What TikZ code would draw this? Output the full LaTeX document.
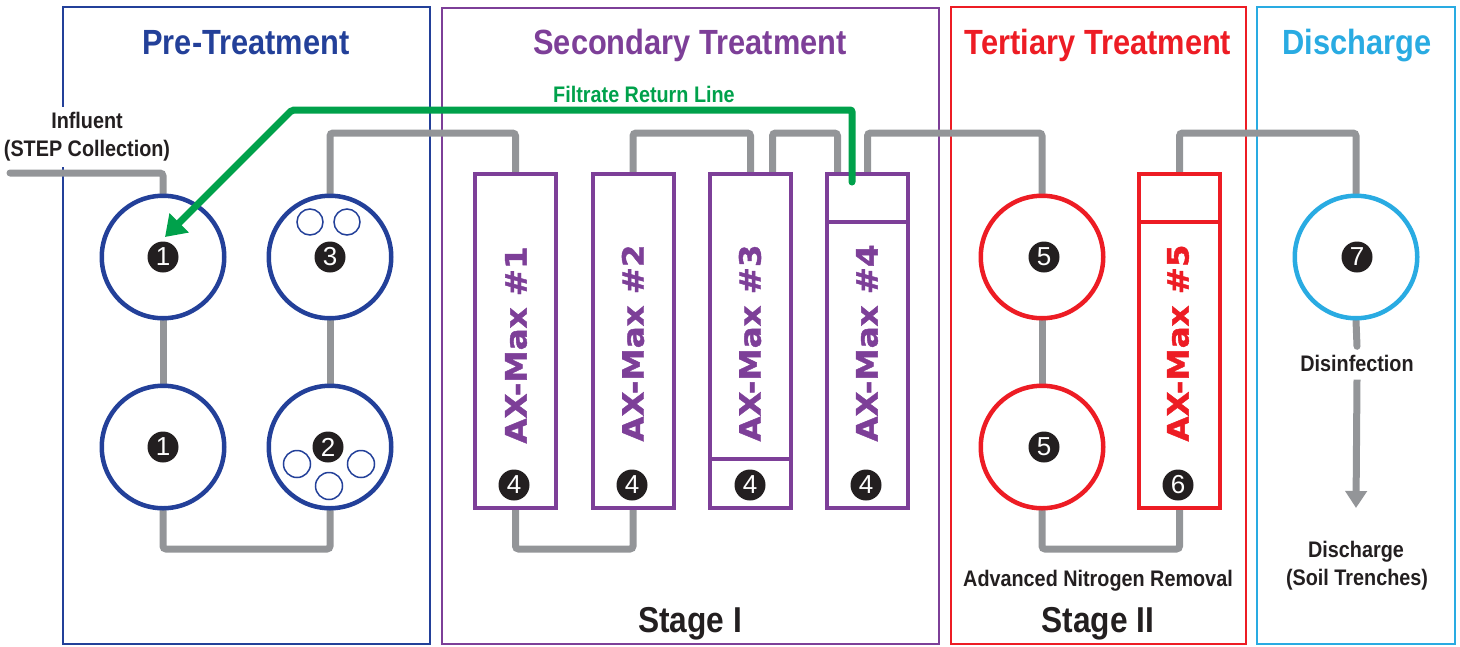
\documentclass[tikz,border=0pt]{standalone}
\usepackage{fontspec}
\setmainfont{Liberation Sans}[FakeStretch=0.88]
\newfontfamily\axfont{DejaVu Sans}[FakeStretch=1.1,FakeBold=1.4]
\newfontfamily\numfont{Liberation Sans}
\usetikzlibrary{arrows.meta,calc}
\pgfdeclarelayer{bg}
\pgfdeclarelayer{pipes}
\pgfsetlayers{bg,pipes,main}
\definecolor{ptblue}{RGB}{35,64,153}
\definecolor{stpurple}{RGB}{125,63,152}
\definecolor{ttred}{RGB}{237,28,36}
\definecolor{dccyan}{RGB}{41,171,226}
\definecolor{pipegray}{RGB}{147,149,152}
\definecolor{retgreen}{RGB}{0,161,75}
\definecolor{ink}{RGB}{35,31,32}
\tikzset{
  panel/.style={line width=2pt},
  tank/.style={circle, draw, line width=4.5pt, fill=white, minimum size=122.5pt, inner sep=0pt},
  axbox/.style={rectangle, draw=stpurple, line width=4pt, fill=white, minimum width=81pt, minimum height=334pt, inner sep=0pt},
  badge/.style={circle, fill=ink, text=white, minimum size=31pt, inner sep=0pt, font=\numfont\fontsize{26}{26}\selectfont},
  pipe/.style={draw=pipegray, line width=7pt, rounded corners=3pt, line cap=round},
  ttl/.style={font=\bfseries\fontsize{35}{40}\selectfont, anchor=base, inner sep=0pt},
  lbl/.style={font=\bfseries\fontsize{22.5}{28}\selectfont, anchor=base, inner sep=0pt, text=ink},
  stg/.style={font=\bfseries\fontsize{36}{40}\selectfont, anchor=base, inner sep=0pt, text=ink},
  axlbl/.style={font=\axfont\bfseries\fontsize{29.5}{32}\selectfont, rotate=90, inner sep=0pt},
  smallc/.style={line width=1.5pt, draw=ptblue},
  divider/.style={line width=4pt},
  retline/.style={draw=retgreen, line width=7pt, rounded corners=2pt, line cap=round},
}
\begin{document}
\begin{tikzpicture}[x=1pt,y=1pt]
\useasboundingbox (0,0) rectangle (1460,-646);
% level coordinates
\coordinate (high) at (0,-133);
\coordinate (low) at (0,-549);
\coordinate (d4) at (0,-222);
\coordinate (d3) at (0,-459);

% panels
\begin{pgfonlayer}{bg}
\draw[panel, draw=ptblue] (63,-7) rectangle (430,-644);
\draw[panel, draw=stpurple] (442,-8) rectangle (939,-644);
\draw[panel, draw=ttred] (951,-7) rectangle (1246,-644);
\draw[panel, draw=dccyan] (1257,-7) rectangle (1455,-644);
\end{pgfonlayer}

% titles
\node[ttl, text=ptblue] (t1) at (246,-54) {Pre-Treatment};
\node[ttl, text=stpurple] (t2) at (690,-54) {Secondary Treatment};
\node[ttl, text=ttred] (t3) at (1098,-54) {Tertiary Treatment};
\node[ttl, text=dccyan] (t4) at (1357,-54) {Discharge};

% tanks
\node[tank, draw=ptblue] (c1a) at (163,-257) {};
\node[tank, draw=ptblue] (c1b) at (163,-447) {};
\node[tank, draw=ptblue] (c3) at (330,-257) {};
\node[tank, draw=ptblue] (c2) at (330,-447) {};
\node[tank, draw=ttred] (c5a) at (1042,-257) {};
\node[tank, draw=ttred] (c5b) at (1042,-447) {};
\node[tank, draw=dccyan] (c7) at (1356,-257) {};

% small circles
\draw[smallc] (310,-222) circle (13);
\draw[smallc] (347,-222) circle (13);
\draw[smallc] (297,-464) circle (13.5);
\draw[smallc] (361,-464) circle (13.5);
\draw[smallc] (329,-486) circle (13.5);

% AX-Max boxes
\node[axbox] (ax1) at (515.5,-341) {};
\node[axbox] (ax2) at (633,-341) {};
\node[axbox] (ax3) at (750.5,-341) {};
\node[axbox] (ax4) at (867.5,-341) {};
\node[axbox, draw=ttred] (ax5) at (1179.5,-341) {};
\draw[divider, stpurple] (ax4.west |- d4) -- (ax4.east |- d4);
\draw[divider, stpurple] (ax3.west |- d3) -- (ax3.east |- d3);
\draw[divider, ttred] (ax5.west |- d4) -- (ax5.east |- d4);

\node[axlbl, text=stpurple] (l1) at (516,-345) {AX-Max \#1};
\node[axlbl, text=stpurple] (l2) at (633,-343) {AX-Max \#2};
\node[axlbl, text=stpurple] (l3) at (750,-343) {AX-Max \#3};
\node[axlbl, text=stpurple] (l4) at (867,-343) {AX-Max \#4};
\node[axlbl, text=ttred] (l5) at (1178,-343) {AX-Max \#5};

% badges
\node[badge] (b1a) at (163,-257) {1};
\node[badge] (b1b) at (163,-447) {1};
\node[badge] (b3) at (330,-257) {3};
\node[badge] (b2) at (328,-447) {2};
\node[badge] (b4a) at (514,-485) {4};
\node[badge] (b4b) at (632,-485) {4};
\node[badge] (b4c) at (750,-485) {4};
\node[badge] (b4d) at (866,-485) {4};
\node[badge] (b5a) at (1044,-257) {5};
\node[badge] (b5b) at (1044,-447) {5};
\node[badge] (b6) at (1178,-485) {6};
\node[badge] (b7) at (1357,-257) {7};

% labels
\node[lbl, anchor=center, align=center, fill=white, inner xsep=3pt, inner ysep=6pt] (infl) at (87,-137) {Influent\\(STEP Collection)};
\node[lbl, text=retgreen] (ret) at (644,-102) {Filtrate Return Line};
\node[lbl] (anr) at (1098,-586) {Advanced Nitrogen Removal};
\node[stg] (s1) at (690,-632) {Stage I};
\node[stg] (s2) at (1098,-632) {Stage II};
\node[lbl, anchor=center, minimum height=33pt] (disinf) at (1357,-363) {Disinfection};
\node[lbl] (dis1) at (1356,-557) {Discharge};
\node[lbl] (dis2) at (1357,-585) {(Soil Trenches)};

% pipes
\coordinate (inf) at (10,-173);
\coordinate (ax3r) at ($(ax3.north)+(22,0)$);
\coordinate (ax4l) at ($(ax4.north)+(-30,0)$);
\coordinate (tip) at (1356,-508);
\begin{pgfonlayer}{pipes}
\draw[pipe] (inf) -| (c1a.north);
\draw[pipe] (c1a.south) -- (c1b.north);
\draw[pipe] (c1b.south) |- (low -| c2.south) -- (c2.south);
\draw[pipe] (c2.north) -- (c3.south);
\draw[pipe] (c3.north) |- (high -| ax1.north) -- (ax1.north);
\draw[pipe] (ax1.south) |- (low -| ax2.south) -- (ax2.south);
\draw[pipe] (ax2.north) |- (high -| ax3.north) -- (ax3.north);
\draw[pipe] (ax3r) |- (high -| ax4l) -- (ax4l);
\draw[pipe] (ax4.north) |- (high -| c5a.north) -- (c5a.north);
\draw[pipe] (c5a.south) -- (c5b.north);
\draw[pipe] (c5b.south) |- (low -| ax5.south) -- (ax5.south);
\draw[pipe] (ax5.north) |- (high -| c7.north) -- (c7.north);
\draw[pipe] (c7.south) -- (disinf.north);
\draw[pipe, line cap=butt, -{Triangle[length=17pt,width=21pt]}] (disinf.south) -- (tip);
\end{pgfonlayer}

% filtrate return line
\coordinate (gstart) at (852,-182);
\coordinate (gturn) at (292,-110);
\coordinate (gtip) at (165,-237);
\draw[retline, -{Triangle[length=20pt,width=26pt]}] (gstart) |- (gturn) -- (gtip);
\end{tikzpicture}
\end{document}
